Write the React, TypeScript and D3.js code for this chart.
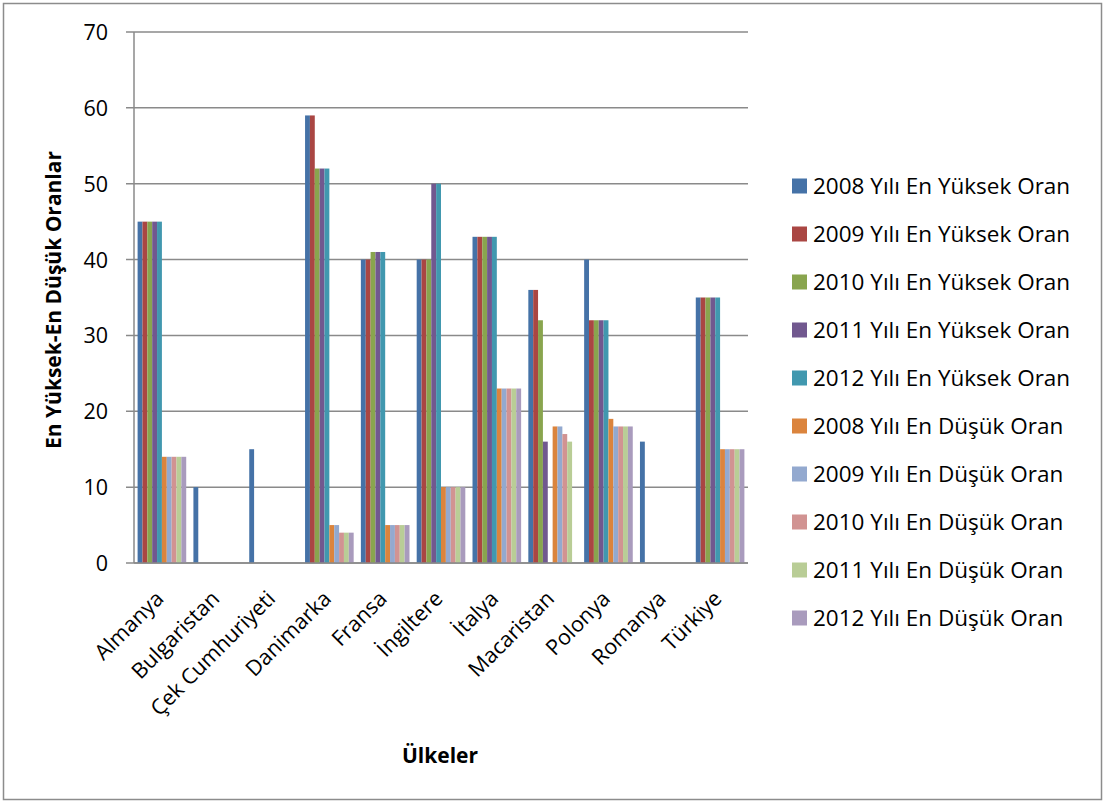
import React from "react";
import * as d3 from "d3";

// Countries on the category axis
const countries = [
  "Almanya",
  "Bulgaristan",
  "Çek Cumhuriyeti",
  "Danimarka",
  "Fransa",
  "İngiltere",
  "İtalya",
  "Macaristan",
  "Polonya",
  "Romanya",
  "Türkiye",
];

// Highest rates per year (null = no value reported)
const high2008 = [45, 10, 15, 59, 40, 40, 43, 36, 40, 16, 35];
const high2009 = [45, null, null, 59, 40, 40, 43, 36, 32, null, 35];
const high2010 = [45, null, null, 52, 41, 40, 43, 32, 32, null, 35];
const high2011 = [45, null, null, 52, 41, 50, 43, 16, 32, null, 35];
const high2012 = [45, null, null, 52, 41, 50, 43, null, 32, null, 35];

// Lowest rates per year
const low2008 = [14, null, null, 5, 5, 10, 23, 18, 19, null, 15];
const low2009 = [14, null, null, 5, 5, 10, 23, 18, 18, null, 15];
const low2010 = [14, null, null, 4, 5, 10, 23, 17, 18, null, 15];
const low2011 = [14, null, null, 4, 5, 10, 23, 16, 18, null, 15];
const low2012 = [14, null, null, 4, 5, 10, 23, null, 18, null, 15];

const seriesNames = [
  "2008 Yılı En Yüksek Oran",
  "2009 Yılı En Yüksek Oran",
  "2010 Yılı En Yüksek Oran",
  "2011 Yılı En Yüksek Oran",
  "2012 Yılı En Yüksek Oran",
  "2008 Yılı En Düşük Oran",
  "2009 Yılı En Düşük Oran",
  "2010 Yılı En Düşük Oran",
  "2011 Yılı En Düşük Oran",
  "2012 Yılı En Düşük Oran",
];

const seriesValues: (number | null)[][] = [
  high2008, high2009, high2010, high2011, high2012,
  low2008, low2009, low2010, low2011, low2012,
];

const seriesColors = [
  "#4572A7", "#AA4643", "#89A54E", "#71588F", "#4198AF",
  "#DB843D", "#93A9CF", "#D19392", "#B9CD96", "#A99BBD",
];

const yTicks = [0, 10, 20, 30, 40, 50, 60, 70];

const FONT = "'Open Sans', 'Noto Sans', sans-serif";

export default function App() {
  const W = 1105;
  const H = 804;
  const left = 134;
  const right = 748;
  const top = 32;
  const bottom = 563;

  const x = d3.scaleBand<string>().domain(countries).range([left, right]).padding(0);
  const gap = 3.6;
  const xs = d3
    .scaleBand<number>()
    .domain(d3.range(seriesNames.length))
    .range([gap, x.bandwidth() - gap])
    .padding(0);
  const y = d3.scaleLinear().domain([0, 70]).range([bottom, top]);

  return (
    <svg
      width={W}
      height={H}
      style={{ position: "absolute", left: 0, top: 0, background: "#fff" }}
      fontFamily={FONT}
    >
      <rect x={3.5} y={3.5} width={1098} height={796} fill="#fff" stroke="#8c8c8c" strokeWidth={1.5} />

      {/* horizontal gridlines and value labels */}
      {yTicks.map((t) => (
        <g key={"g" + t}>
          <line x1={left - 8} x2={right} y1={y(t)} y2={y(t)} stroke="#8a8a8a" strokeWidth={1.5} />
          <text x={108} y={y(t) + 8} textAnchor="end" fontSize={21.5} fill="#000">
            {t}
          </text>
        </g>
      ))}

      {/* bars */}
      {seriesValues.map((vals, si) =>
        vals.map((v, ci) =>
          v == null ? null : (
            <rect
              key={si + "-" + ci}
              x={(x(countries[ci]) as number) + (xs(si) as number)}
              y={y(v)}
              width={xs.bandwidth()}
              height={y(0) - y(v)}
              fill={seriesColors[si]}
            />
          )
        )
      )}

      {/* axis lines */}
      <line x1={left} x2={left} y1={top} y2={bottom} stroke="#8a8a8a" strokeWidth={1.5} />
      <line x1={left} x2={right} y1={bottom} y2={bottom} stroke="#8a8a8a" strokeWidth={1.5} />

      {/* category labels */}
      {countries.map((c) => {
        const cx = (x(c) as number) + x.bandwidth() / 2 + 3;
        return (
          <text
            key={c}
            transform={`translate(${cx},${600}) rotate(-45)`}
            textAnchor="end"
            fontSize={21.5}
            fill="#000"
          >
            {c}
          </text>
        );
      })}

      {/* axis titles */}
      <text
        transform={`translate(61,${300}) rotate(-90)`}
        textAnchor="middle"
        fontSize={21}
        fontWeight="bold"
        fill="#000"
      >
        En Yüksek-En Düşük Oranlar
      </text>
      <text x={440} y={763} textAnchor="middle" fontSize={21} fontWeight="bold" fill="#000">
        Ülkeler
      </text>

      {/* legend */}
      {seriesNames.map((n, i) => {
        const ly = 186 + i * 48;
        return (
          <g key={n}>
            <rect x={792} y={ly - 7.5} width={15} height={15} fill={seriesColors[i]} />
            <text x={813} y={ly + 7.5} fontSize={22.5} fill="#000">
              {n}
            </text>
          </g>
        );
      })}
    </svg>
  );
}
